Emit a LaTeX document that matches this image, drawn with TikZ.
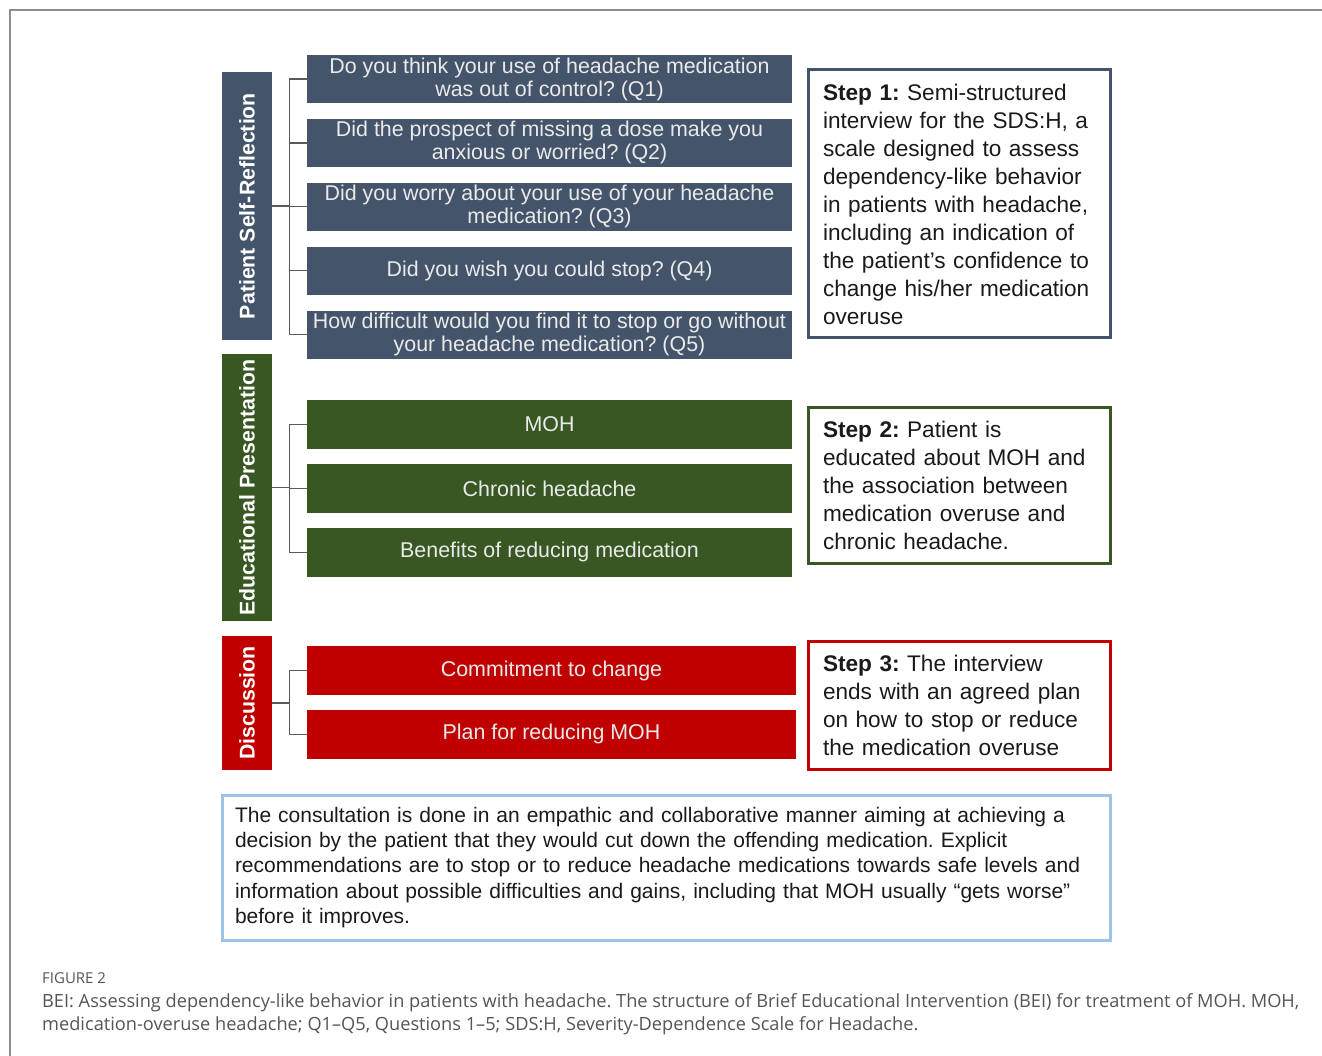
\documentclass[tikz,border=0pt]{standalone}
\usepackage{fontspec}
\setmainfont{Liberation Sans}
\newfontfamily\capfont{Open Sans}
\usetikzlibrary{positioning}

\definecolor{slate}{HTML}{44546A}
\definecolor{leaf}{HTML}{385723}
\definecolor{crimson}{HTML}{C00000}
\definecolor{sky}{HTML}{9DC3E6}
\definecolor{ink}{HTML}{1A1A1A}
\definecolor{paper}{HTML}{EAEAEA}
\definecolor{wire}{HTML}{5A5A5A}
\definecolor{frameline}{HTML}{8C8C8C}
\definecolor{captext}{HTML}{555555}

\begin{document}
\frenchspacing
\begin{tikzpicture}[x=1pt, y=-1pt,
  qbox/.style={fill=#1, text=paper, minimum width=485pt, minimum height=48pt,
    inner sep=0pt, align=center, font=\fontsize{21.4}{23}\selectfont},
  tag/.style={fill=#1, text=white, rotate=90, minimum height=50pt, inner sep=0pt,
    font=\bfseries\fontsize{21.3}{22}\selectfont},
  stepbox/.style={draw=#1, line width=3pt, minimum width=302pt, text width=272pt,
    align=left, inner sep=0pt, text=ink, font=\fontsize{22.6}{28}\selectfont},
  brace/.style={draw=wire, line width=1.3pt},
  node distance=15.5pt]
  \useasboundingbox (0,0) rectangle (1322,1056);
  \draw [frameline, line width=2pt] (10,1056) -- (10,10) -- (1322,10);

  % self-reflection questions
  \node [tag=slate, minimum width=268pt] (tagP) at (247,206) {Patient Self-Reflection};
  \node [qbox=slate] (Q1) at (549.5,79)
    {Do you think your use of headache medication\\ was out of control? (Q1)};
  \node [qbox=slate, below=of Q1] (Q2)
    {Did the prospect of missing a dose make you\\ anxious or worried? (Q2)};
  \node [qbox=slate, below=of Q2] (Q3)
    {Did you worry about your use of your headache\\ medication? (Q3)};
  \node [qbox=slate, below=of Q3] (Q4) {Did you wish you could stop? (Q4)};
  \node [qbox=slate, below=of Q4] (Q5)
    {How difficult would you find it to stop or go without\\ your headache medication? (Q5)};
  \foreach \q in {Q1,Q2,Q3,Q4,Q5}
    \draw [brace] (\q.west) -- ++(-17pt,0) |- (tagP.south);

  % education
  \node [tag=leaf, minimum width=267pt] (tagE) at (247,487.5) {Educational Presentation};
  \node [qbox=leaf, minimum height=49pt] (E1) at (549.5,424.5) {MOH};
  \node [qbox=leaf, minimum height=49pt, below=14.5pt of E1] (E2) {Chronic headache};
  \node [qbox=leaf, minimum height=49pt, below=14.5pt of E2] (E3) {Benefits of reducing medication};
  \foreach \q in {E1,E2,E3}
    \draw [brace] (\q.west) -- ++(-17pt,0) |- (tagE.south);

  % discussion
  \node [tag=crimson, minimum width=134pt] (tagD) at (247,703) {Discussion};
  \node [qbox=crimson, minimum width=489pt, minimum height=49pt] (D1) at (551.5,670.5)
    {Commitment to change};
  \node [qbox=crimson, minimum width=489pt, minimum height=49pt, below=14.5pt of D1] (D2)
    {Plan for reducing MOH};
  \foreach \q in {D1,D2}
    \draw [brace] (\q.west) -- ++(-17pt,0) |- (tagD.south);

  % steps
  \node [stepbox=slate, minimum height=268pt] (S1) at (959,204)
    {\textbf{Step 1:} Semi-structured\\ interview for the SDS:H, a\\
     scale designed to assess\\ dependency-like behavior\\
     in patients with headache,\\ including an indication of\\
     the patient’s confidence to\\ change his/her medication\\ overuse};
  \node [stepbox=leaf, minimum height=156pt] (S2) at (959,485)
    {\textbf{Step 2:} Patient is\\ educated about MOH and\\
     the association between\\ medication overuse and\\ chronic headache.};
  \node [stepbox=crimson, minimum height=128pt] (S3) at (959,705)
    {\textbf{Step 3:} The interview\\ ends with an agreed plan\\
     on how to stop or reduce\\ the medication overuse};

  \node [draw=sky, line width=3pt, minimum width=888pt, minimum height=145pt,
    text width=862pt, inner sep=0pt, align=left, text=ink,
    font=\fontsize{21}{25.3}\selectfont] (note) at (666,867.5)
    {The consultation is done in an empathic and collaborative manner aiming at achieving a\\
     decision by the patient that they would cut down the offending medication. Explicit\\
     recommendations are to stop or to reduce headache medications towards safe levels and\\
     information about possible difficulties and gains, including that MOH usually “gets worse”\\
     before it improves.};

  % caption
  \node [anchor=west, inner sep=0pt, text=captext, font=\capfont\fontsize{15}{17}\selectfont]
    (fig) at (42,978) {FIGURE 2};
  \node [anchor=north west, inner sep=0pt, align=left, text=captext,
    font=\capfont\fontsize{18.2}{23}\selectfont] (cap) at (42,993)
    {BEI: Assessing dependency-like behavior in patients with headache. The structure of Brief Educational Intervention (BEI) for treatment of MOH. MOH,\\
     medication-overuse headache; Q1–Q5, Questions 1–5; SDS:H, Severity-Dependence Scale for Headache.};
\end{tikzpicture}
\end{document}
